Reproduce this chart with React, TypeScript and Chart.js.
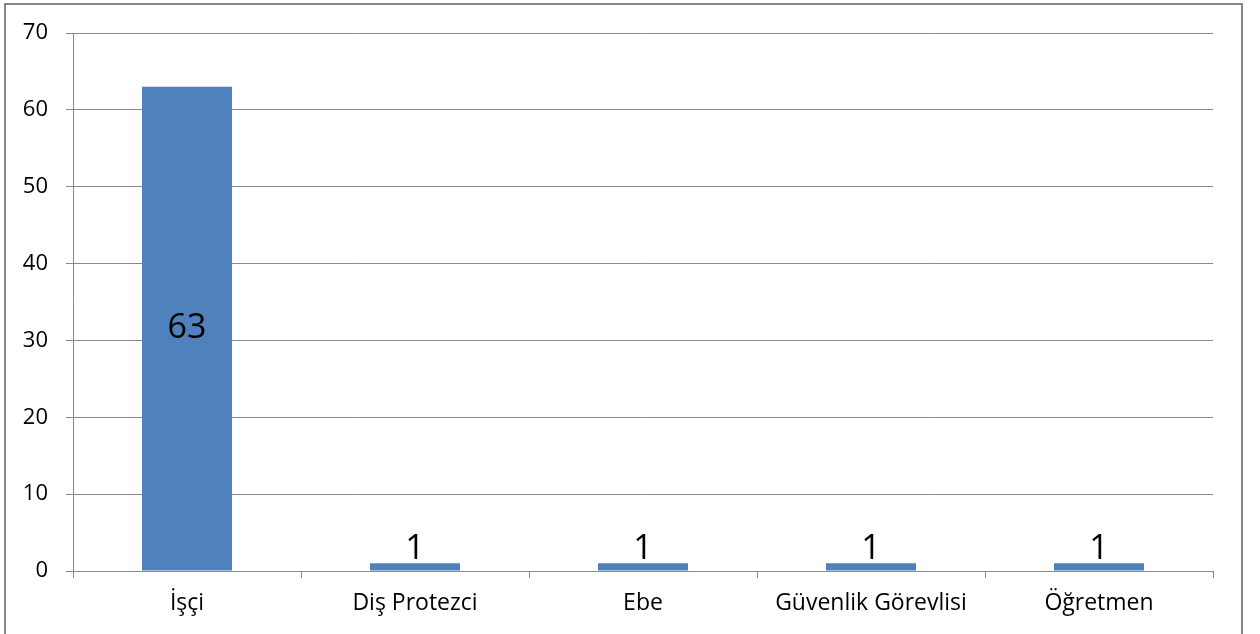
import React, { useEffect, useRef } from "react";
import { Chart, registerables } from "chart.js";

Chart.register(...registerables);

const categories = ["İşçi", "Diş Protezci", "Ebe", "Güvenlik Görevlisi", "Öğretmen"];
const counts = [63, 1, 1, 1, 1];
const yTicks = [0, 10, 20, 30, 40, 50, 60, 70];

const FONT = "'Open Sans', sans-serif";
const GRID = "#888888";

const frame = {
  id: "frame",
  beforeDraw(chart: any) {
    const ctx = chart.ctx;
    ctx.save();
    ctx.fillStyle = "#ffffff";
    ctx.fillRect(0, 0, chart.width, chart.height);
    ctx.strokeStyle = "#878787";
    ctx.lineWidth = 2;
    ctx.strokeRect(5, 4, 1237, 700);
    ctx.restore();
  },
};

const labels = {
  id: "valueLabels",
  afterDatasetsDraw(chart: any) {
    const ctx = chart.ctx;
    const meta = chart.getDatasetMeta(0);
    ctx.save();
    ctx.font = `34px ${FONT}`;
    ctx.fillStyle = "#000";
    ctx.textAlign = "center";
    meta.data.forEach((bar: any, i: number) => {
      const v = chart.data.datasets[0].data[i];
      const h = bar.base - bar.y;
      if (h > 50) {
        ctx.textBaseline = "middle";
        ctx.fillText(String(v), bar.x, (bar.y + bar.base) / 2);
      } else {
        ctx.textBaseline = "alphabetic";
        ctx.fillText(String(v), bar.x, bar.y - 4);
      }
    });
    ctx.restore();
  },
};

export default function App() {
  const ref = useRef<HTMLCanvasElement>(null);
  useEffect(() => {
    if (!ref.current) return;
    const chart = new Chart(ref.current, {
      type: "bar",
      data: {
        labels: categories,
        datasets: [
          {
            data: counts,
            backgroundColor: "#4F81BD",
            categoryPercentage: 1,
            barPercentage: 0.395,
          },
        ],
      },
      options: {
        responsive: false,
        animation: false,
        layout: { padding: { left: 0, right: 47, top: 33, bottom: 0 } },
        plugins: { legend: { display: false }, tooltip: { enabled: false } },
        scales: {
          x: {
            offset: true,
            grid: {
              offset: true,
              drawOnChartArea: false,
              drawTicks: true,
              tickLength: 7,
              color: GRID,
            },
            border: { color: GRID, width: 1 },
            ticks: { font: { family: FONT, size: 23 }, color: "#000", padding: 12, maxRotation: 0 },
            afterFit(scale: any) {
              scale.height = 63;
            },
          },
          y: {
            min: 0,
            max: 70,
            afterBuildTicks(scale: any) {
              scale.ticks = yTicks.map((v) => ({ value: v }));
            },
            grid: { color: GRID, tickLength: 7 },
            border: { color: GRID, width: 1 },
            ticks: { font: { family: FONT, size: 22 }, color: "#000", padding: 18 },
            afterFit(scale: any) {
              scale.width = 73;
            },
          },
        },
      },
      plugins: [frame, labels],
    });
    return () => chart.destroy();
  }, []);
  return (
    <div style={{ position: "fixed", left: 0, top: 0, width: 1260, height: 634 }}>
      <canvas ref={ref} width={1260} height={634} style={{ display: "block" }} />
    </div>
  );
}
